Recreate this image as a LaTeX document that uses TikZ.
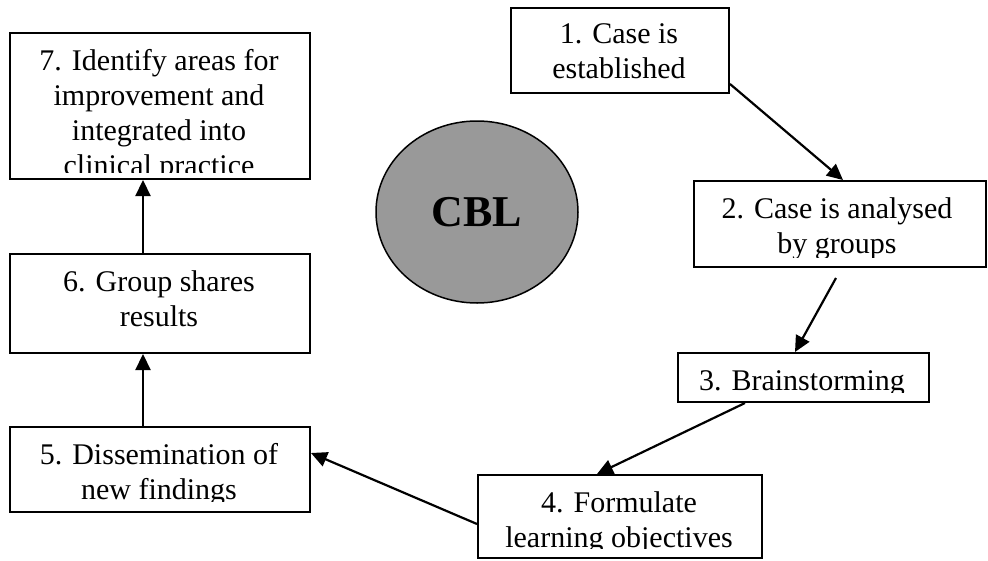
\documentclass[tikz,border=0pt]{standalone}
\usepackage{fontspec}
\setmainfont{Liberation Serif}
\usetikzlibrary{arrows.meta,shapes.geometric}
\begin{document}
\begin{tikzpicture}[x=1pt,y=-1pt,
  box/.style={draw,line width=2pt,rectangle,inner sep=0pt,anchor=north west},
  txt/.style={anchor=north,inner sep=0pt,align=center,font=\fontsize{30}{35}\selectfont},
  arr/.style={line width=2.2pt,-{Triangle[length=16pt,width=15pt]}},
]
\useasboundingbox (0,0) rectangle (988,560);

% boxes
\node[box,minimum width=218pt,minimum height=85pt] (b1) at (510,7) {};
\node[box,minimum width=292pt,minimum height=86pt] (b2) at (693,180) {};
\node[box,minimum width=251pt,minimum height=49pt] (b3) at (677,352) {};
\node[box,minimum width=284pt,minimum height=83pt] (b4) at (477,474) {};
\node[box,minimum width=300pt,minimum height=85pt] (b5) at (9,426) {};
\node[box,minimum width=300pt,minimum height=99pt] (b6) at (9,253) {};
\node[box,minimum width=300pt,minimum height=146pt] (b7) at (9,32) {};

% texts (clipped like the original text boxes)
\begin{scope}\clip (510,7) rectangle (728,84);
\node[txt] (t1) at (619,19) {\strut 1. Case is\\established};\end{scope}
\begin{scope}\clip (693,180) rectangle (985,257);
\node[txt] (t2) at (837,193.5) {\strut 2. Case is analysed\\by groups};\end{scope}
\begin{scope}\clip (677,352) rectangle (928,392);
\node[txt] (t3) at (802,365.5) {\strut 3. Brainstorming};\end{scope}
\begin{scope}\clip (477,474) rectangle (761,548);
\node[txt] (t4) at (619,487.5) {\strut 4. Formulate\\learning objectives};\end{scope}
\begin{scope}\clip (9,426) rectangle (309,501);
\node[txt] (t5) at (159,439.5) {\strut 5. Dissemination of\\new findings};\end{scope}
\begin{scope}\clip (9,253) rectangle (309,343);
\node[txt] (t6) at (159,266.5) {\strut 6. Group shares\\results};\end{scope}
\begin{scope}\clip (9,32) rectangle (309,172);
\node[txt] (t7) at (159,45.5) {\strut 7. Identify areas for\\improvement and\\integrated into\\clinical practice};\end{scope}

% centre ellipse
\node[ellipse,draw,line width=1.5pt,fill={rgb,255:red,153;green,153;blue,153},
      minimum width=202pt,minimum height=182pt,inner sep=0pt] (cbl) at (477,212)
      {\fontsize{44}{44}\selectfont\bfseries CBL};

% connectors
\draw[arr] ([yshift=10pt]b1.south east) -- ([xshift=150pt]b2.north west);
\coordinate (s2) at ([xshift=143pt,yshift=-10pt]b2.south west);
\draw[arr] (s2) -- ([xshift=118pt]b3.north west);
\draw[arr] ([xshift=68pt]b3.south west) -- ([xshift=120pt]b4.north west);
\draw[arr] ([yshift=-50pt]b4.north west) -- ([yshift=-27pt]b5.north east);
\draw[arr] ([xshift=134pt]b5.north west) -- ([xshift=134pt]b6.south west);
\draw[arr] ([xshift=134pt]b6.north west) -- ([xshift=134pt]b7.south west);
\end{tikzpicture}
\end{document}
